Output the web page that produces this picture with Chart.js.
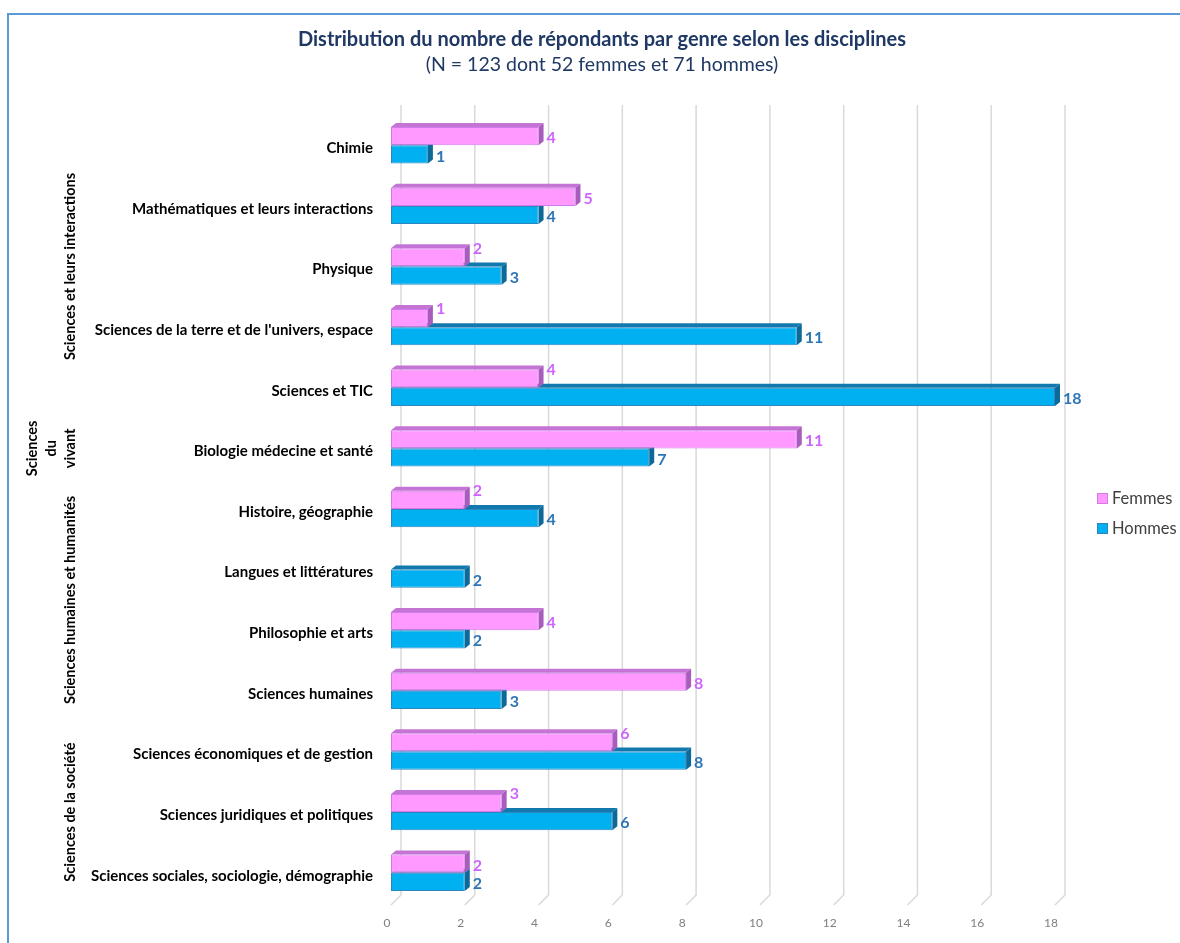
<!DOCTYPE html>
<html>
<head>
<meta charset="utf-8">
<script src="https://cdn.jsdelivr.net/npm/chart.js@4"></script>
<style>
  html, body { margin: 0; padding: 0; background: #fff; }
  canvas { display: block; }
</style>
</head>
<body>
<canvas id="chart" width="1180" height="943"></canvas>
<script>
// Répondants par discipline et par genre
var CATEGORIES = [
  'Chimie',
  'Mathématiques et leurs interactions',
  'Physique',
  "Sciences de la terre et de l'univers, espace",
  'Sciences et TIC',
  'Biologie médecine et santé',
  'Histoire, géographie',
  'Langues et littératures',
  'Philosophie et arts',
  'Sciences humaines',
  'Sciences économiques et de gestion',
  'Sciences juridiques et politiques',
  'Sciences sociales, sociologie, démographie'
];
var FEMMES = [4, 5, 2, 1, 4, 11, 2, null, 4, 8, 6, 3, 2];
var HOMMES = [1, 4, 3, 11, 18, 7, 4, 2, 2, 3, 8, 6, 2];
var X_MIN = 0, X_MAX = 18, X_STEP = 2;

// groupes de disciplines (indices de catégories)
var GROUPS = [
  { lines: ['Sciences et leurs interactions'], from: 0, to: 4 },
  { lines: ['Sciences', 'du', 'vivant'], from: 5, to: 5 },
  { lines: ['Sciences humaines et humanités'], from: 6, to: 9 },
  { lines: ['Sciences de la société'], from: 10, to: 12 }
];

var FONT = 'Lato, "Open Sans", sans-serif';
var DX = 5, DY = -4; // profondeur de l'effet 3D

var STYLE = [
  { front: '#FF99FF', border: '#D27BE8', top: '#C374D4', side: '#A95CBD', label: '#CC66FF' },
  { front: '#00B0F0', border: '#2E86C1', top: '#1279AE', side: '#0B6A99', label: '#2E75B6' }
];

function poly(ctx, pts, fill) {
  ctx.beginPath();
  ctx.moveTo(pts[0][0], pts[0][1]);
  for (var i = 1; i < pts.length; i++) ctx.lineTo(pts[i][0], pts[i][1]);
  ctx.closePath();
  ctx.fillStyle = fill;
  ctx.fill();
}

var decor = {
  id: 'decor',
  beforeDraw: function (chart) {
    var ctx = chart.ctx;
    ctx.save();
    ctx.strokeStyle = '#5B9BD5';
    ctx.lineWidth = 2;
    ctx.beginPath();
    ctx.moveTo(8, 943);
    ctx.lineTo(8, 14);
    ctx.lineTo(1180, 14);
    ctx.stroke();
    ctx.restore();
  },
  beforeDatasetsDraw: function (chart) {
    var ctx = chart.ctx, a = chart.chartArea, xs = chart.scales.x;
    ctx.save();
    // lignes de grille sur le plan arrière + sol
    ctx.strokeStyle = '#D9D9D9';
    ctx.lineWidth = 1.5;
    xs.ticks.forEach(function (t) {
      var px = xs.getPixelForValue(t.value);
      ctx.beginPath();
      ctx.moveTo(px + 10, a.top - 10);
      ctx.lineTo(px + 10, a.bottom - 8);
      ctx.lineTo(px, a.bottom + 2);
      ctx.stroke();
    });
    // faces 3D : hommes d'abord, femmes par-dessus
    [1, 0].forEach(function (di) {
      var st = STYLE[di];
      chart.getDatasetMeta(di).data.forEach(function (bar, i) {
        if (chart.data.datasets[di].data[i] == null) return;
        var p = bar.getProps(['x', 'y', 'base', 'height'], true);
        var top = p.y - p.height / 2, bot = p.y + p.height / 2;
        poly(ctx, [[p.base, top], [p.base + DX, top + DY], [p.x + DX, top + DY], [p.x, top]], st.top);
        poly(ctx, [[p.x, top], [p.x + DX, top + DY], [p.x + DX, bot + DY], [p.x, bot]], st.side);
      });
    });
    ctx.restore();
  },
  afterDatasetsDraw: function (chart) {
    var ctx = chart.ctx, ys = chart.scales.y;
    var ds = chart.data.datasets;
    ctx.save();
    // étiquettes de valeurs (femmes remontée si la barre hommes dépasse)
    ctx.font = 'bold 16px ' + FONT;
    ctx.textAlign = 'left';
    ctx.textBaseline = 'middle';
    [0, 1].forEach(function (di) {
      ctx.fillStyle = STYLE[di].label;
      chart.getDatasetMeta(di).data.forEach(function (bar, i) {
        var v = ds[di].data[i];
        if (v == null) return;
        var p = bar.getProps(['x', 'y'], true);
        var dy = 2;
        if (di === 0 && ds[1].data[i] > v) dy = -9;
        ctx.fillText(String(v), p.x + DX + 3, p.y + dy);
      });
    });
    // groupes de disciplines (texte vertical)
    ctx.font = 'bold 14.5px ' + FONT;
    ctx.fillStyle = '#000';
    ctx.textAlign = 'center';
    GROUPS.forEach(function (g) {
      var cy = (ys.getPixelForValue(g.from) + ys.getPixelForValue(g.to)) / 2;
      var n = g.lines.length;
      g.lines.forEach(function (line, k) {
        ctx.save();
        ctx.translate(70 - (n - 1 - k) * 19, cy);
        ctx.rotate(-Math.PI / 2);
        ctx.fillText(line, 0, 0);
        ctx.restore();
      });
    });
    // légende
    ctx.font = '16.5px ' + FONT;
    ctx.textAlign = 'left';
    ds.forEach(function (d, di) {
      var cy = 499 + di * 30;
      ctx.fillStyle = STYLE[di].front;
      ctx.fillRect(1097, cy - 6, 11, 11);
      ctx.strokeStyle = STYLE[di].border;
      ctx.lineWidth = 1;
      ctx.strokeRect(1097.5, cy - 5.5, 10, 10);
      ctx.fillStyle = '#404040';
      ctx.fillText(d.label, 1112, cy);
    });
    ctx.restore();
  }
};

new Chart(document.getElementById('chart'), {
  type: 'bar',
  data: {
    labels: CATEGORIES,
    datasets: [
      { label: 'Femmes', data: FEMMES, backgroundColor: STYLE[0].front, borderColor: STYLE[0].border,
        borderWidth: 1, borderSkipped: false, categoryPercentage: 0.6, barPercentage: 1.0 },
      { label: 'Hommes', data: HOMMES, backgroundColor: STYLE[1].front, borderColor: STYLE[1].border,
        borderWidth: 1, borderSkipped: false, categoryPercentage: 0.6, barPercentage: 1.0 }
    ]
  },
  options: {
    indexAxis: 'y',
    responsive: false,
    animation: false,
    layout: { padding: { left: 24, right: 0, top: 0, bottom: 0 } },
    plugins: {
      legend: { display: false },
      tooltip: { enabled: false },
      title: {
        display: true,
        text: 'Distribution du nombre de répondants par genre selon les disciplines',
        color: '#1F3864',
        font: { family: FONT, size: 20, weight: 'bold' },
        padding: { top: 28, bottom: 1 }
      },
      subtitle: {
        display: true,
        text: '(N = 123 dont 52 femmes et 71 hommes)',
        color: '#1F3864',
        font: { family: FONT, size: 19.5 },
        padding: { top: 0, bottom: 38.6 }
      }
    },
    scales: {
      x: {
        min: X_MIN, max: X_MAX,
        ticks: { stepSize: X_STEP, color: '#7F7F7F', font: { family: FONT, size: 12 }, padding: 13, labelOffset: -4 },
        grid: { display: false, drawTicks: false },
        border: { display: false },
        afterFit: function (s) { s.height = 40; }
      },
      y: {
        ticks: { color: '#000', font: { family: FONT, size: 15, weight: 'bold' }, padding: 18, autoSkip: false, labelOffset: 3 },
        grid: { display: false, drawTicks: false },
        border: { display: false },
        afterFit: function (s) { s.width = 391 - 24; }
      },
      // axe vide à droite : réserve la place de la légende
      yRight: {
        type: 'category',
        position: 'right',
        ticks: { display: false },
        grid: { display: false, drawTicks: false },
        border: { display: false },
        afterFit: function (s) { s.width = 125; }
      }
    }
  },
  plugins: [decor]
});
</script>
</body>
</html>
